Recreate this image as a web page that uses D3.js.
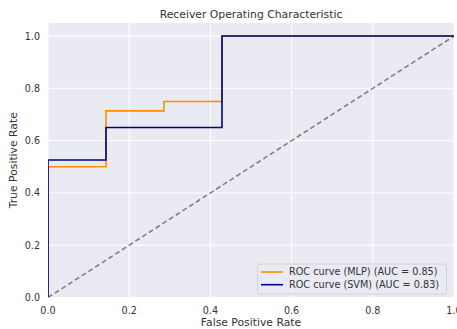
<!DOCTYPE html>
<html><head><meta charset="utf-8">
<script src="https://cdn.jsdelivr.net/npm/d3@7"></script>
<style>body{margin:0;background:#fff}svg{display:block}text{font-family:"DejaVu Sans",sans-serif;fill:#333}</style>
</head><body><svg id="c" width="457" height="329"></svg>
<script>
const mlpFpr = [0, 0, 1/7, 1/7, 2/7, 2/7, 3/7, 3/7, 1];
const mlpTpr = [0, 0.5, 0.5, 0.714, 0.714, 0.75, 0.75, 1, 1];
const svmFpr = [0, 0, 1/7, 1/7, 3/7, 3/7, 1];
const svmTpr = [0, 0.526, 0.526, 0.65, 0.65, 1, 1];
const seriesNames = ["ROC curve (MLP) (AUC = 0.85)", "ROC curve (SVM) (AUC = 0.83)"];
const ticks = [0, 0.2, 0.4, 0.6, 0.8, 1.0];

const svg = d3.select("#c");
const L = 48, R = 454, T = 23, B = 297.5;
const x = d3.scaleLinear().domain([0, 1]).range([L, R]);
const y = d3.scaleLinear().domain([0, 1.05]).range([B, T]);

svg.append("rect").attr("x", L).attr("y", T).attr("width", R - L).attr("height", B - T).attr("fill", "#eaeaf2");
svg.append("defs").append("clipPath").attr("id", "clip").append("rect")
  .attr("x", L).attr("y", T).attr("width", R - L).attr("height", B - T);

const g = svg.append("g");
ticks.forEach(t => {
  g.append("line").attr("x1", x(t)).attr("x2", x(t)).attr("y1", T).attr("y2", B).attr("stroke", "#fff").attr("stroke-width", 1);
  g.append("line").attr("x1", L).attr("x2", R).attr("y1", y(t)).attr("y2", y(t)).attr("stroke", "#fff").attr("stroke-width", 1);
  g.append("text").attr("x", x(t)).attr("y", 313.5).attr("text-anchor", "middle").attr("font-size", 9.6).text(t.toFixed(1));
  g.append("text").attr("x", 40).attr("y", y(t) + 3.5).attr("text-anchor", "end").attr("font-size", 9.6).text(t.toFixed(1));
});

const line = d3.line().x(d => x(d[0])).y(d => y(d[1]));
const plot = svg.append("g").attr("clip-path", "url(#clip)");
plot.append("path").datum([[0, 0], [1, 1]]).attr("d", line).attr("fill", "none")
  .attr("stroke", "#808080").attr("stroke-width", 1.6).attr("stroke-dasharray", "5,3");
plot.append("path").datum(mlpFpr.map((v, i) => [v, mlpTpr[i]])).attr("d", line).attr("fill", "none")
  .attr("stroke", "#ff8c00").attr("stroke-width", 1.6);
plot.append("path").datum(svmFpr.map((v, i) => [v, svmTpr[i]])).attr("d", line).attr("fill", "none")
  .attr("stroke", "#000080").attr("stroke-width", 1.6);

svg.append("text").attr("x", (L + R) / 2).attr("y", 18).attr("text-anchor", "middle").attr("font-size", 10.8).text("Receiver Operating Characteristic");
svg.append("text").attr("x", (L + R) / 2).attr("y", 326).attr("text-anchor", "middle").attr("font-size", 10.8).text("False Positive Rate");
svg.append("text").attr("transform", `translate(16.5,${(T + B) / 2}) rotate(-90)`).attr("text-anchor", "middle").attr("font-size", 10.8).text("True Positive Rate");

const lg = svg.append("g");
lg.append("rect").attr("x", 257.5).attr("y", 264).attr("width", 189).attr("height", 30).attr("rx", 2.5)
  .attr("fill", "#eaeaf2").attr("fill-opacity", 0.8).attr("stroke", "#cccccc").attr("stroke-width", 0.8);
const colors = ["#ff8c00", "#000080"];
seriesNames.forEach((n, i) => {
  const yy = 272 + i * 12.7;
  lg.append("line").attr("x1", 261).attr("x2", 283).attr("y1", yy).attr("y2", yy).attr("stroke", colors[i]).attr("stroke-width", 1.6);
  lg.append("text").attr("x", 289).attr("y", yy + 3.4).attr("font-size", 9.7).text(n);
});
</script></body></html>
